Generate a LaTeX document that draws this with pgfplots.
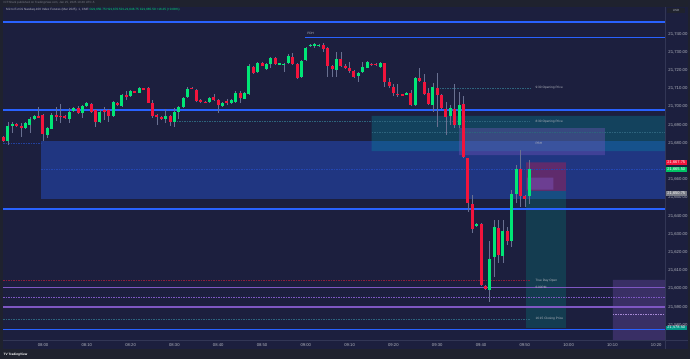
\documentclass[border=0pt]{standalone}
\usepackage{fontspec}
\setmainfont{Liberation Sans}
\usepackage{pgfplots}
\pgfplotsset{compat=1.18}
\usepackage{pgfplotstable}

\definecolor{hdr}{RGB}{31,34,46}
\definecolor{navy}{RGB}{28,31,62}
\definecolor{tvblue}{RGB}{41,98,255}
\definecolor{upc}{RGB}{0,230,118}
\definecolor{dnc}{RGB}{242,20,60}
\definecolor{wickc}{RGB}{105,112,145}
\definecolor{tealz}{RGB}{0,150,167}
\definecolor{tgt}{RGB}{0,150,136}
\definecolor{purp}{RGB}{126,87,194}
\definecolor{lbl}{RGB}{178,181,190}
\definecolor{sep}{RGB}{50,54,85}
\definecolor{dred}{RGB}{140,30,60}
\definecolor{dteal}{RGB}{45,100,125}
\definecolor{grayl}{RGB}{120,123,134}

\pgfplotstableread{
m O H L C
-9 21683.2 21684.0 21680.5 21681.3
-8 21681.3 21691.8 21679.0 21689.4
-7 21689.9 21691.8 21685.4 21690.5
-6 21690.5 21691.0 21689.0 21689.4
-5 21689.0 21690.9 21683.5 21688.7
-4 21688.5 21691.5 21688.0 21690.9
-3 21689.9 21694.5 21685.4 21693.1
-2 21693.1 21695.2 21692.8 21694.7
-1 21694.9 21700.0 21693.8 21694.3
0 21695.3 21696.0 21681.3 21685.0
1 21684.4 21688.8 21683.0 21688.1
2 21688.0 21696.5 21687.5 21695.4
3 21695.3 21700.0 21692.0 21694.4
4 21694.9 21701.5 21690.9 21694.4
5 21694.7 21695.5 21693.0 21693.8
6 21693.4 21699.1 21690.9 21697.3
7 21697.5 21700.0 21697.0 21699.3
8 21699.5 21700.2 21696.0 21696.7
9 21696.7 21701.0 21694.0 21700.6
10 21700.4 21702.4 21700.0 21701.9
11 21701.5 21702.0 21696.8 21697.3
12 21698.2 21699.0 21689.0 21691.8
13 21691.6 21698.0 21691.0 21697.1
14 21698.2 21699.6 21692.7 21697.6
15 21698.2 21698.8 21691.8 21694.9
16 21695.1 21703.2 21694.5 21702.6
17 21701.9 21702.4 21700.4 21701.0
18 21700.6 21707.0 21700.0 21706.4
19 21706.4 21708.8 21703.7 21705.5
20 21705.9 21709.0 21705.3 21708.4
21 21708.4 21708.9 21707.5 21707.9
22 21707.7 21710.6 21707.3 21710.1
23 21709.9 21710.4 21709.0 21709.5
24 21710.1 21710.8 21701.8 21702.2
25 21701.9 21703.7 21693.6 21695.1
26 21695.3 21695.8 21689.9 21694.7
27 21694.2 21694.7 21692.5 21693.1
28 21693.1 21698.6 21690.9 21694.7
29 21694.9 21695.5 21689.4 21691.6
30 21691.6 21699.1 21689.0 21697.1
31 21697.1 21700.5 21693.1 21700.0
32 21699.8 21705.3 21699.4 21704.8
33 21705.1 21711.0 21704.7 21709.5
34 21710.3 21710.8 21709.5 21709.9
35 21709.2 21709.8 21702.7 21703.1
36 21703.7 21704.2 21702.2 21702.6
37 21702.8 21703.2 21701.8 21702.2
38 21702.6 21705.3 21702.2 21704.8
39 21705.5 21707.0 21703.2 21703.7
40 21703.7 21704.2 21696.4 21700.7
41 21700.4 21702.4 21700.0 21701.9
42 21702.8 21704.0 21701.0 21702.4
43 21701.9 21704.4 21701.4 21703.9
44 21702.6 21708.8 21702.2 21707.5
45 21707.3 21708.8 21701.9 21705.0
46 21704.4 21708.0 21704.0 21707.5
47 21707.0 21723.5 21706.5 21722.4
48 21721.6 21722.1 21717.9 21718.3
49 21719.1 21724.5 21718.6 21724.0
50 21724.0 21724.5 21722.1 21722.6
51 21720.9 21724.0 21720.4 21723.5
52 21723.3 21727.3 21721.1 21726.8
53 21726.8 21727.5 21722.8 21723.3
54 21723.3 21724.0 21722.9 21723.6
55 21723.1 21724.1 21719.3 21723.6
56 21723.8 21728.9 21723.3 21727.9
57 21727.5 21729.3 21723.0 21723.5
58 21723.6 21724.1 21715.0 21715.6
59 21716.1 21725.8 21715.6 21725.3
60 21725.5 21732.6 21725.0 21732.1
61 21733.2 21734.6 21732.8 21734.1
62 21733.7 21735.2 21732.1 21734.3
63 21733.5 21734.4 21733.0 21733.9
64 21733.9 21734.8 21730.1 21731.9
65 21732.4 21733.0 21716.5 21722.4
66 21722.6 21723.0 21716.5 21720.5
67 21720.2 21730.1 21716.5 21726.2
68 21726.2 21730.2 21722.0 21722.4
69 21722.5 21723.5 21720.6 21721.1
70 21721.1 21724.4 21718.3 21719.6
71 21719.6 21720.0 21715.6 21716.5
72 21716.9 21719.2 21713.4 21718.7
73 21718.9 21724.4 21718.4 21721.6
74 21721.5 21724.9 21721.0 21724.4
75 21723.5 21724.0 21722.4 21722.9
76 21723.5 21724.0 21722.4 21722.9
77 21721.8 21724.4 21721.3 21723.8
78 21723.8 21724.2 21711.0 21713.8
79 21713.8 21715.6 21710.1 21711.4
80 21710.6 21712.7 21706.1 21707.3
81 21707.0 21712.3 21705.5 21706.4
82 21706.6 21707.0 21705.7 21706.1
83 21706.8 21708.0 21706.4 21707.5
84 21707.7 21709.2 21700.4 21700.9
85 21700.9 21716.1 21700.4 21715.6
86 21715.9 21721.1 21713.6 21714.1
87 21713.8 21717.8 21706.3 21706.8
88 21707.3 21710.1 21701.0 21701.5
89 21700.9 21712.8 21697.3 21711.0
90 21710.5 21718.3 21689.0 21706.4
91 21706.4 21707.0 21698.5 21699.1
92 21698.6 21702.8 21684.4 21694.5
93 21694.9 21700.9 21690.0 21699.1
94 21698.6 21712.5 21688.1 21689.9
95 21689.9 21708.3 21688.1 21700.9
96 21701.5 21705.9 21671.6 21672.2
97 21671.6 21672.0 21642.3 21647.3
98 21646.5 21651.5 21630.8 21632.8
99 21634.5 21636.0 21634.0 21635.4
100 21635.6 21636.0 21601.7 21602.2
101 21601.7 21602.0 21599.5 21600.0
102 21599.3 21626.4 21592.9 21616.3
103 21617.2 21637.8 21606.6 21633.7
104 21633.5 21637.8 21614.3 21618.5
105 21618.0 21637.8 21614.3 21631.7
106 21631.7 21634.1 21624.0 21626.4
107 21626.4 21654.2 21623.1 21652.0
108 21652.0 21668.0 21647.3 21666.0
109 21666.0 21676.2 21645.1 21650.9
110 21650.9 21651.5 21645.1 21649.1
111 21650.75 21670.5 21646.75 21665.5
}\candles

\begin{document}
\begin{tikzpicture}
\useasboundingbox (0,0) rectangle (690bp,359bp);
\fill[hdr] (0,0) rectangle (690bp,359bp);
\fill[navy] (2.5bp,10bp) rectangle (687.5bp,352.3bp);
\draw[sep, line width=0.6bp] (665bp,10bp) -- (665bp,352.3bp);
\draw[sep, line width=0.6bp] (2.5bp,19bp) -- (687.5bp,19bp);

\node[anchor=west, font=\fontsize{3}{3.6}\selectfont, text=grayl, inner sep=0] at (3.5bp,356bp) {ICTShark published on TradingView.com, Jan 25, 2025 10:40 UTC-5};
\node[anchor=west, font=\fontsize{3.1}{3.7}\selectfont, inner sep=0] at (6bp,349bp) {\textcolor{lbl}{Micro E-mini Nasdaq-100 Index Futures (Mar 2025), 1, CME}\ \textcolor{upc}{O21,650.75 H21,670.50 L21,646.75 C21,665.50 +16.25 (+0.08\%)}};
\node[anchor=west, font=\bfseries\fontsize{3.2}{3.8}\selectfont, text=white, inner sep=0] at (3.5bp,4.6bp) {TV TradingView};
\node[fill=hdr, text=lbl, font=\fontsize{3}{3.6}\selectfont, minimum width=18bp, minimum height=5bp, inner sep=0] at (676bp,348.3bp) {USD};

\begin{axis}[
  at={(3bp,19bp)}, anchor=south west, scale only axis,
  width=662bp, height=332bp,
  xmin=-9.132, xmax=142.01, ymin=21571.81, ymax=21754.23,
  clip=false,
  axis line style={draw=none}, tick style={draw=none}, major tick length=0pt,
  scaled y ticks=false,
  ytick={21580,21590,21600,21610,21620,21630,21640,21650,21660,21680,21690,21700,21710,21720,21730,21740},
  yticklabel pos=right,
  y tick label style={font=\fontsize{4.3}{5}\selectfont, text=lbl, anchor=west, inner sep=0pt, xshift=3.2bp,
    /pgf/number format/.cd, fixed, fixed zerofill, precision=2, 1000 sep={,}, assume math mode=true},
  xtick={0,10,...,140},
  xticklabels={08:00,08:10,08:20,08:30,08:40,08:50,09:00,09:10,09:20,09:30,09:40,09:50,10:00,10:10,10:20},
  x tick label style={font=\fontsize{4.2}{5}\selectfont, text=lbl, anchor=center, yshift=-4.7bp},
  candle/.style={draw=none, mark=none, forget plot, mark options={draw=none, fill=none}, mark size=0pt},
]
% zones
\addplot[draw=none, fill=tvblue, fill opacity=0.35, forget plot] coordinates {(-0.4,21649.3) (142.01,21649.3) (142.01,21681.1) (-0.4,21681.1) (-0.4,21649.3)};
\addplot[draw=none, fill=tealz, fill opacity=0.3, forget plot] coordinates {(75,21675.6) (142.01,21675.6) (142.01,21694.9) (75,21694.9) (75,21675.6)};
\addplot[draw=none, fill=purp, fill opacity=0.35, forget plot] coordinates {(95,21673.4) (128.3,21673.4) (128.3,21688.2) (95,21688.2) (95,21673.4)};
\addplot[draw=none, fill=dnc, fill opacity=0.3, forget plot] coordinates {(110.3,21653.7) (119.4,21653.7) (119.4,21669.4) (110.3,21669.4) (110.3,21653.7)};
\addplot[draw=none, fill=purp, fill opacity=0.45, forget plot] coordinates {(110.5,21654.4) (116.5,21654.4) (116.5,21661.0) (110.5,21661.0) (110.5,21654.4)};
\addplot[draw=none, fill=tgt, fill opacity=0.25, forget plot] coordinates {(110.3,21578.5) (119.4,21578.5) (119.4,21653.7) (110.3,21653.7) (110.3,21578.5)};
\addplot[draw=none, fill=purp, fill opacity=0.3, forget plot] coordinates {(130.1,21571.81) (142.01,21571.81) (142.01,21604.8) (130.1,21604.8) (130.1,21571.81)};

% lines
\addplot[tvblue, line width=1.8bp, forget plot] coordinates {(-9.132,21746.7) (142.01,21746.7)};
\addplot[tvblue, line width=1.2bp, forget plot] coordinates {(59.8,21738.0) (142.01,21738.0)};
\addplot[tvblue, line width=1.8bp, forget plot] coordinates {(-9.132,21698.1) (142.01,21698.1)};
\addplot[tvblue, line width=1.8bp, forget plot] coordinates {(-9.132,21643.6) (142.01,21643.6)};
\addplot[tvblue, line width=1.1bp, forget plot] coordinates {(-9.132,21577.7) (142.01,21577.7)};
\addplot[purp, line width=1.0bp, forget plot] coordinates {(-9.132,21600.8) (142.01,21600.8)};
\addplot[purp, line width=0.6bp, dash pattern=on 1.5bp off 1bp, forget plot] coordinates {(-9.132,21595.3) (142.01,21595.3)};
\addplot[purp, line width=1.6bp, forget plot] coordinates {(-9.132,21590.0) (142.01,21590.0)};
\addplot[purp!70!white, line width=0.5bp, dash pattern=on 1.5bp off 1bp, forget plot] coordinates {(130.1,21586.1) (142.01,21586.1)};
\addplot[dred, line width=0.6bp, dash pattern=on 1.5bp off 1bp, forget plot] coordinates {(-9.132,21604.6) (111.2,21604.6)};
\addplot[dteal, line width=0.6bp, dash pattern=on 1.5bp off 1bp, forget plot] coordinates {(-9.132,21583.4) (111.2,21583.4)};
\addplot[dteal, line width=0.6bp, dash pattern=on 1.5bp off 1bp, forget plot] coordinates {(30,21691.8) (111.2,21691.8)};
\addplot[dteal, line width=0.6bp, dash pattern=on 1.5bp off 1bp, forget plot] coordinates {(90,21710.3) (111.2,21710.3)};
\addplot[dteal, line width=0.5bp, dash pattern=on 1.5bp off 1bp, forget plot] coordinates {(75,21685.7) (142.01,21685.7)};
\addplot[tvblue!60!navy, line width=0.5bp, dash pattern=on 1.5bp off 1bp, forget plot] coordinates {(-0.4,21665.6) (142.01,21665.6)};
\addplot[tvblue!50!navy, line width=0.5bp, dash pattern=on 1.5bp off 1bp, forget plot] coordinates {(-9.132,21680.0) (-0.4,21680.0)};

% wicks
\addplot[candle,
  error bars/.cd, y dir=both, y explicit, error mark=none,
  error bar style={draw=wickc, line width=0.6bp}]
  table[x=m, y expr={0.5*(\thisrow{H}+\thisrow{L})}, y error expr={0.5*(\thisrow{H}-\thisrow{L})}] {\candles};
% green bodies
\addplot[candle,
  restrict expr to domain={\thisrow{C}-\thisrow{O}}{0:1000},
  error bars/.cd, y dir=both, y explicit, error mark=none,
  error bar style={draw=upc, line width=3bp}]
  table[x=m, y expr={0.5*(\thisrow{O}+\thisrow{C})}, y error expr={max(0.5*abs(\thisrow{C}-\thisrow{O}),0.35)}] {\candles};
% red bodies
\addplot[candle,
  restrict expr to domain={\thisrow{O}-\thisrow{C}}{0.001:1000},
  error bars/.cd, y dir=both, y explicit, error mark=none,
  error bar style={draw=dnc, line width=3bp}]
  table[x=m, y expr={0.5*(\thisrow{O}+\thisrow{C})}, y error expr={max(0.5*abs(\thisrow{C}-\thisrow{O}),0.35)}] {\candles};

% text labels
\begin{scope}[every node/.style={anchor=west, font=\fontsize{3.2}{3.8}\selectfont, text=lbl, inner sep=0}]
\node at (axis cs:112.4,21710.3) {9:30 Opening Price};
\node at (axis cs:112.4,21691.8) {8:30 Opening Price};
\node at (axis cs:112.4,21680.0) {PBH};
\node at (axis cs:112.4,21604.6) {True Day Open};
\node at (axis cs:112.4,21600.8) {6:00PM};
\node at (axis cs:112.4,21583.4) {16:15 Closing Price};
\node at (axis cs:60.3,21740.0) {PDH};
\end{scope}

% price tags
\begin{scope}[every node/.style={anchor=west, font=\fontsize{4.0}{4.6}\selectfont, text=white, inner sep=0, minimum width=21.5bp, minimum height=4.6bp}]
\node[fill=dnc] at (axis cs:142.1,21669.3) {21,667.75};
\node[fill=upc!85!black] at (axis cs:142.1,21665.5) {21,665.50};
\node[fill=grayl] at (axis cs:142.1,21652.4) {21,650.75};
\node[fill=tgt] at (axis cs:142.1,21578.5) {21,578.50};
\end{scope}
\end{axis}
\end{tikzpicture}
\end{document}
